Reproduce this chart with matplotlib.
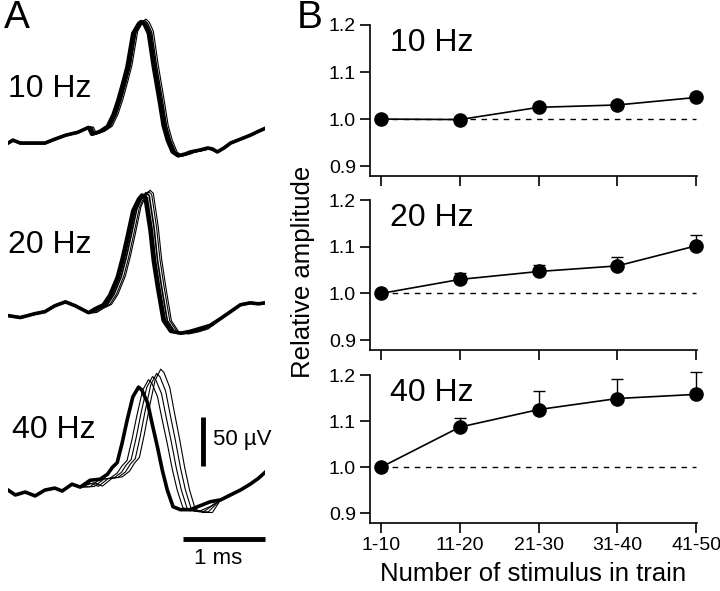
import numpy as np
import matplotlib
matplotlib.use("Agg")
import matplotlib.pyplot as plt

plt.rcParams['font.family'] = ['Liberation Sans', 'DejaVu Sans']

# Panel A: averaged extracellular traces (time in ms, amplitude in uV)
t_10 = [0.00, 0.06, 0.15, 0.27, 0.45, 0.57, 0.70, 0.85, 0.98, 1.02, 1.12, 1.21, 1.28, 1.34, 1.40,
        1.45, 1.52, 1.59, 1.62, 1.66, 1.71, 1.77, 1.84, 1.89, 1.94, 2.00, 2.07, 2.16, 2.22, 2.34,
        2.43, 2.49, 2.55, 2.63, 2.71, 2.83, 2.95, 3.05, 3.13]
v_10 = [0, 3, 0, 0, 0, 4, 8, 11, 16, 9, 12, 17, 29, 44, 62,
        78, 112, 122, 124, 121, 112, 78, 44, 18, 3, -9, -13, -11, -9, -7,
        -5, -6, -9, -5, 0, 4, 8, 12, 15]

t_20 = [0.00, 0.15, 0.33, 0.45, 0.57, 0.70, 0.82, 0.98, 1.06, 1.16, 1.24, 1.33, 1.39, 1.45, 1.52,
        1.59, 1.63, 1.67, 1.73, 1.77, 1.82, 1.89, 1.98, 2.10, 2.22, 2.34, 2.46, 2.59, 2.71, 2.83,
        2.95, 3.05, 3.13]
v_20 = [0, -2, 2, 4, 10, 14, 10, 3, 7, 11, 21, 39, 58, 80, 107,
        119, 123, 120, 87, 56, 29, -5, -16, -18, -16, -13, -10, -3, 4, 11,
        13, 12, 13]

t_40 = [0.00, 0.09, 0.21, 0.33, 0.45, 0.57, 0.66, 0.78, 0.88, 1.00, 1.12, 1.21, 1.27, 1.33, 1.39,
        1.45, 1.52, 1.59, 1.63, 1.70, 1.76, 1.82, 1.88, 1.94, 2.01, 2.10, 2.22, 2.34, 2.46, 2.59,
        2.71, 2.83, 2.95, 3.05, 3.13]
v_40 = [3, -2, 1, -3, 3, 5, 2, 9, 6, 13, 14, 19, 26, 31, 51,
        74, 98, 108, 105, 92, 69, 47, 23, 3, -14, -17, -17, -13, -9, -7,
        -2, 3, 9, 15, 21]

# latency shift (ms) and relative size of the overlaid sweeps
lags_10 = [0.0, 0.02, 0.04, 0.06]
gains_10 = [1.0, 1.0, 1.01, 1.02]
lags_20 = [0.0, 0.02, 0.05, 0.08, 0.10]
gains_20 = [1.0, 1.0, 1.02, 1.03, 1.04]
lags_40 = [0.0, 0.12, 0.17, 0.22, 0.27]
gains_40 = [1.0, 1.07, 1.10, 1.13, 1.17]

# Panel B: relative amplitude, mean and upper error
groups = ['1-10', '11-20', '21-30', '31-40', '41-50']
amp_10 = [1.000, 0.999, 1.025, 1.030, 1.046]
err_10 = [0.0, 0.004, 0.004, 0.004, 0.005]
amp_20 = [1.000, 1.030, 1.047, 1.059, 1.102]
err_20 = [0.0, 0.014, 0.013, 0.019, 0.024]
amp_40 = [1.000, 1.087, 1.125, 1.149, 1.158]
err_40 = [0.0, 0.020, 0.041, 0.042, 0.049]


def sweep(t, v, lag, gain, t0=1.0, t1=2.5):
    """Сдвинутая по времени копия следа, склеенная с исходной базовой линией"""
    t = np.asarray(t, float)
    v = np.asarray(v, float)
    ts = t + lag
    keep = (ts >= t0) & (ts <= t1)
    tt = np.concatenate([t[t < t0], ts[keep], t[t > t1]])
    vv = np.concatenate([v[t < t0], v[keep] * gain, v[t > t1]])
    return tt, vv


W, H = 720, 591
fig = plt.figure(figsize=(W / 100, H / 100), dpi=100)

# ---- panel A ----
axA = fig.add_axes([8 / W, 0, 257 / W, 1])
axA.set_xlim(0, 3.13)
axA.set_ylim(0, 603)
axA.axis('off')

panels = [(t_10, v_10, lags_10, gains_10, 457, [2.6, 2.0, 1.0, 0.8]),
          (t_20, v_20, lags_20, gains_20, 281, [2.6, 2.0, 1.2, 0.8, 0.8]),
          (t_40, v_40, lags_40, gains_40, 100, [2.6, 0.8, 0.8, 0.8, 0.8])]
for t, v, lags, gains, off, widths in panels:
    for lag, g, lw in zip(lags[::-1], gains[::-1], widths[::-1]):
        tt, vv = sweep(t, v, lag, g)
        axA.plot(tt, vv + off, color='black', lw=lw, solid_joinstyle='round')

# scale bars
axA.plot([2.37, 2.37], [127.5, 177.5], color='black', lw=3.5, solid_capstyle='butt')
axA.plot([2.13, 3.13], [53, 53], color='black', lw=3.5, solid_capstyle='butt', clip_on=False)
fig.text(213 / W, 1 - 440 / H, '50 \u00b5V', fontsize=16, va='center', ha='left')
fig.text(218 / W, 1 - 558 / H, '1 ms', fontsize=16, va='center', ha='center')

fig.text(8 / W, 1 - 89 / H, '10 Hz', fontsize=23, va='center', ha='left')
fig.text(8 / W, 1 - 245 / H, '20 Hz', fontsize=23, va='center', ha='left')
fig.text(12 / W, 1 - 430 / H, '40 Hz', fontsize=23, va='center', ha='left')
fig.text(4 / W, 1 - 18 / H, 'A', fontsize=28, va='center', ha='left')
fig.text(297 / W, 1 - 18 / H, 'B', fontsize=28, va='center', ha='left')

# ---- panel B ----
x = np.arange(1, len(groups) + 1)
boxes = [(176, 151), (350, 150), (523, 148)]
series = [(amp_10, err_10, '10 Hz'), (amp_20, err_20, '20 Hz'), (amp_40, err_40, '40 Hz')]
axes_b = []
for (bot, hgt), (amp, err, lab) in zip(boxes, series):
    ax = fig.add_axes([370 / W, 1 - bot / H, 327 / W, hgt / H])
    ax.plot([1, 5], [1.0, 1.0], color='black', lw=1.0, ls=(0, (4, 4)))
    eb = ax.errorbar(x, amp, yerr=[np.zeros(len(err)), err], color='black', lw=1.2,
                     marker='o', markersize=9.5, capsize=4, elinewidth=1.0, capthick=1.0)
    for art in eb.lines[1] + eb.lines[2]:
        art.set_clip_on(False)
    eb.lines[0].set_clip_on(False)
    ax.set_xlim(0.86, 5.01)
    ax.set_ylim(0.879, 1.2)
    ax.set_yticks([0.9, 1.0, 1.1, 1.2])
    ax.set_yticklabels(['0.9', '1.0', '1.1', '1.2'])
    ax.set_xticks(x)
    ax.spines['top'].set_visible(False)
    ax.spines['right'].set_visible(False)
    for s in ['left', 'bottom']:
        ax.spines[s].set_linewidth(1.2)
    ax.tick_params(direction='out', length=7, width=1.2, labelsize=14, pad=3)
    ax.text(0.06, 0.88, lab, transform=ax.transAxes, fontsize=23, va='center', ha='left')
    axes_b.append(ax)

for ax in axes_b[:2]:
    ax.set_xticklabels([])
axes_b[2].set_xticklabels(groups)
axes_b[2].set_xlabel('Number of stimulus in train', fontsize=18.5, labelpad=6)
fig.text(303 / W, 1 - 272 / H, 'Relative amplitude', fontsize=18.5, rotation=90,
         va='center', ha='center')

fig.savefig('out.png', dpi=100)
